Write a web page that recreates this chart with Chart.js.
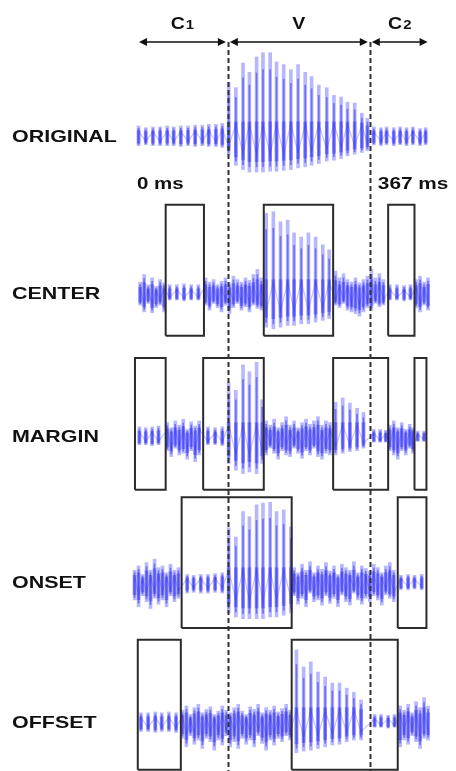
<!doctype html>
<html lang="en">
<head>
    <meta charset="utf-8">
    <title>Waveform windows</title>
    <style>
        body { margin: 0; background: #fff; }
        #wrap { position: relative; width: 456px; height: 771px; }
    </style>
</head>
<body>
    <div id="wrap"><canvas id="myChart"></canvas></div>

    <script src="https://cdn.jsdelivr.net/npm/chart.js"></script>
    <script>
        // ---- data (time in ms, amplitude normalised) ----
        var rowNames = ['ORIGINAL', 'CENTER', 'MARGIN', 'ONSET', 'OFFSET'];
        var segBounds = [0, 114, 292, 367];
        var segNames = ['C', 'V', 'C'];
        var segSubs = ['1', '', '2'];
        var timeLabels = ['0 ms', '367 ms'];

        var origTime = [2,11,20,29,38,46,55,64,73,82,90,99,107, 115,124,133,141,150,158,167,175,184,193,202,211,219,228,238,247,256,264,273,282,289, 297,306,313,322,330,338,346,355,362];
        var origHigh = [0.13,0.11,0.12,0.12,0.13,0.12,0.13,0.13,0.14,0.14,0.15,0.15,0.16, 0.64,0.58,0.87,0.76,0.94,0.99,0.99,0.88,0.85,0.79,0.85,0.76,0.71,0.61,0.58,0.49,0.47,0.41,0.40,0.28,0.22, 0.12,0.11,0.12,0.11,0.12,0.11,0.12,0.10,0.11];
        var origLow = [-0.10,-0.09,-0.10,-0.10,-0.10,-0.10,-0.11,-0.10,-0.11,-0.10,-0.11,-0.11,-0.12, -0.21,-0.33,-0.38,-0.41,-0.41,-0.41,-0.40,-0.40,-0.39,-0.38,-0.36,-0.35,-0.33,-0.31,-0.28,-0.27,-0.25,-0.22,-0.20,-0.18,-0.16, -0.09,-0.10,-0.09,-0.10,-0.09,-0.10,-0.09,-0.10,-0.09];

        var centerTime = [4,9,14,19,24,29,34, 41,50,59,68,77, 86,91,96,101,106,111,116,121,126,131,136,141,146,151,156, 162,171,180,189,197,206,215,224,233,241, 249,254,259,264,269,274,279,284,289,294,299,304,309, 317,326,335,343, 350,355,360,365];
        var centerHigh = [0.15,0.24,0.12,0.20,0.10,0.18,0.14, 0.12,0.12,0.13,0.12,0.12, 0.20,0.15,0.18,0.12,0.16,0.20,0.14,0.22,0.18,0.15,0.20,0.17,0.24,0.30,0.20, 0.96,0.98,0.86,0.88,0.73,0.68,0.73,0.68,0.59,0.53, 0.28,0.20,0.25,0.18,0.15,0.20,0.14,0.18,0.22,0.30,0.20,0.25,0.18, 0.12,0.12,0.11,0.12, 0.18,0.22,0.15,0.20];
        var centerLow = [-0.12,-0.20,-0.10,-0.21,-0.15,-0.12,-0.20, -0.06,-0.06,-0.07,-0.06,-0.06, -0.12,-0.18,-0.10,-0.15,-0.20,-0.12,-0.22,-0.15,-0.10,-0.18,-0.14,-0.20,-0.12,-0.16,-0.18, -0.38,-0.40,-0.38,-0.36,-0.36,-0.34,-0.34,-0.32,-0.30,-0.28, -0.12,-0.15,-0.10,-0.18,-0.20,-0.22,-0.25,-0.20,-0.15,-0.18,-0.10,-0.14,-0.12, -0.06,-0.06,-0.07,-0.06, -0.15,-0.20,-0.12,-0.18];

        var marginTime = [3,11,19,27, 38,43,48,53,58,63,68,73,78, 89,98,107, 115,124,133,141,150,157, 162,167,172,177,182,187,192,197,202,207,212,217,222,227,232,237,242, 249,258,267,276,284, 297,305,312, 317,322,327,332,337,342,346, 352,360];
        var marginHigh = [0.13,0.12,0.13,0.14, 0.18,0.12,0.20,0.15,0.22,0.10,0.19,0.14,0.20, 0.13,0.12,0.13, 0.65,0.56,0.86,0.78,0.89,0.45, 0.20,0.15,0.22,0.12,0.18,0.25,0.15,0.20,0.12,0.18,0.22,0.16,0.20,0.25,0.15,0.20,0.18, 0.42,0.47,0.41,0.35,0.30, 0.10,0.10,0.09, 0.15,0.20,0.12,0.18,0.10,0.16,0.12, 0.08,0.08];
        var marginLow = [-0.08,-0.08,-0.09,-0.08, -0.15,-0.22,-0.12,-0.20,-0.18,-0.25,-0.15,-0.28,-0.20, -0.08,-0.08,-0.09, -0.30,-0.38,-0.42,-0.40,-0.42,-0.30, -0.20,-0.12,-0.18,-0.25,-0.15,-0.20,-0.22,-0.12,-0.18,-0.24,-0.15,-0.20,-0.12,-0.22,-0.25,-0.18,-0.20, -0.20,-0.18,-0.16,-0.15,-0.12, -0.05,-0.05,-0.05, -0.15,-0.20,-0.25,-0.15,-0.20,-0.12,-0.18, -0.04,-0.04];

        var onsetTime = [-3,2,7,12,17,22,27,32,37,42,47,52, 63,71,80,89,98,107, 115,124,133,141,150,158,167,175,184,193, 197,202,207,212,217,222,227,232,237,242,247,252,257,262,267,272,277,282,287,292,297,302,307,312,317,322, 331,340,348,357];
        var onsetHigh = [0.15,0.20,0.10,0.24,0.15,0.28,0.18,0.20,0.12,0.22,0.15,0.18, 0.10,0.09,0.10,0.10,0.11,0.12, 0.65,0.54,0.84,0.78,0.92,0.94,0.95,0.84,0.86,0.66, 0.18,0.12,0.22,0.15,0.25,0.12,0.20,0.16,0.24,0.14,0.20,0.10,0.22,0.18,0.15,0.25,0.12,0.20,0.17,0.14,0.22,0.18,0.12,0.20,0.24,0.15, 0.09,0.10,0.09,0.10];
        var onsetLow = [-0.20,-0.28,-0.15,-0.22,-0.30,-0.18,-0.25,-0.20,-0.28,-0.15,-0.22,-0.18, -0.12,-0.11,-0.12,-0.12,-0.11,-0.12, -0.35,-0.40,-0.42,-0.42,-0.42,-0.42,-0.40,-0.40,-0.38,-0.35, -0.15,-0.25,-0.18,-0.28,-0.12,-0.22,-0.20,-0.26,-0.15,-0.24,-0.18,-0.28,-0.14,-0.22,-0.26,-0.12,-0.20,-0.25,-0.18,-0.22,-0.15,-0.20,-0.26,-0.14,-0.18,-0.22, -0.08,-0.08,-0.07,-0.08];

        var offsetTime = [5,14,23,31,40,49, 57,62,67,72,77,82,87,92,97,102,107,112,117,122,127,132,137,142,147,152,157,162,167,172,177,182,187,192, 200,209,218,227,236,245,254,263,272,281, 298,306,315,323, 330,335,340,345,350,355,360,365];
        var offsetHigh = [0.12,0.12,0.13,0.12,0.13,0.12, 0.15,0.20,0.10,0.18,0.22,0.12,0.16,0.19,0.10,0.14,0.20,0.15,0.12,0.18,0.22,0.14,0.10,0.19,0.16,0.22,0.12,0.18,0.15,0.20,0.13,0.17,0.22,0.15, 0.86,0.66,0.72,0.60,0.54,0.47,0.47,0.41,0.36,0.27, 0.10,0.10,0.09,0.10, 0.20,0.15,0.22,0.12,0.25,0.18,0.30,0.20];
        var offsetLow = [-0.10,-0.10,-0.11,-0.10,-0.10,-0.11, -0.18,-0.28,-0.15,-0.25,-0.20,-0.30,-0.18,-0.22,-0.32,-0.20,-0.26,-0.15,-0.28,-0.22,-0.30,-0.18,-0.25,-0.20,-0.28,-0.15,-0.24,-0.32,-0.20,-0.26,-0.18,-0.22,-0.15,-0.20, -0.35,-0.33,-0.32,-0.30,-0.28,-0.26,-0.25,-0.22,-0.20,-0.20, -0.05,-0.05,-0.06,-0.05, -0.28,-0.20,-0.25,-0.15,-0.22,-0.30,-0.18,-0.20];

        // analysis windows (start / end in ms)
        var centerBoxStart = [36, 159, 315];
        var centerBoxEnd = [84, 246, 348];
        var marginBoxStart = [-2.5, 83, 246, 348];
        var marginBoxEnd = [36, 159, 315, 363];
        var onsetBoxStart = [56, 327];
        var onsetBoxEnd = [194, 363];
        var offsetBoxStart = [1, 194];
        var offsetBoxEnd = [55, 327];
        var boxTop = [0, 1.06, 0.94, 1.01, 0.98];
        var boxBottom = [0, -0.48, -0.61, -0.53, -0.55];

        // ---- build chart ----
        var rows = [
            { id: 'yOrig',   time: origTime,   high: origHigh,   low: origLow,   starts: [],             ends: [] },
            { id: 'yCenter', time: centerTime, high: centerHigh, low: centerLow, starts: centerBoxStart, ends: centerBoxEnd },
            { id: 'yMargin', time: marginTime, high: marginHigh, low: marginLow, starts: marginBoxStart, ends: marginBoxEnd },
            { id: 'yOnset',  time: onsetTime,  high: onsetHigh,  low: onsetLow,  starts: onsetBoxStart,  ends: onsetBoxEnd },
            { id: 'yOffset', time: offsetTime, high: offsetHigh, low: offsetLow, starts: offsetBoxStart, ends: offsetBoxEnd }
        ];
        // vertical band of each row: [max, min, height share]
        var rowRange = [[1.08, -0.62, 145], [1.235, -0.59, 155], [1.094, -0.66, 149], [1.047, -0.624, 142], [1.024, -0.565, 135]];
        var coreLevel = 0.3;   // dense part of the trace round the zero line

        var datasets = [];
        var scales = {
            x: { type: 'linear', min: -10, max: 380, display: false, offset: false }
        };

        rows.forEach(function (r, k) {
            scales[r.id] = {
                type: 'linear', position: 'left', display: false,
                stack: 'rows', stackWeight: rowRange[k][2], weight: 10 - k,
                min: rowRange[k][1], max: rowRange[k][0]
            };
            // light spikes
            datasets.push({
                type: 'bar',
                yAxisID: r.id,
                data: r.time.map((t, i) => ({ x: t, y: [r.low[i], r.high[i]] })),
                backgroundColor: 'rgba(95, 95, 255, 0.45)',
                barThickness: 3,
                grouped: false,
                order: 3
            });
            // dark centre of each spike
            datasets.push({
                type: 'bar',
                yAxisID: r.id,
                data: r.time.map((t, i) => ({ x: t, y: [r.low[i] * 0.85, r.high[i] * 0.8] })),
                backgroundColor: 'rgba(40, 40, 245, 0.5)',
                barThickness: 1,
                grouped: false,
                order: 2
            });
            // denser body near zero
            datasets.push({
                type: 'bar',
                yAxisID: r.id,
                data: r.time.map((t, i) => ({ x: t, y: [r.low[i] * 0.7, Math.min(r.high[i], coreLevel) * 0.6] })),
                backgroundColor: 'rgba(40, 40, 250, 0.4)',
                barThickness: 3,
                grouped: false,
                order: 2
            });
            // thin trace linking the pulses
            datasets.push({
                type: 'line',
                yAxisID: r.id,
                data: r.time.map((t, i) => ({ x: t, y: (i % 2 ? r.low[i] : Math.min(r.high[i], coreLevel)) * 0.5 })),
                borderColor: 'rgba(60, 60, 255, 0.3)',
                borderWidth: 1.2,
                pointRadius: 0,
                tension: 0,
                order: 2
            });
            r.starts.forEach(function (s, j) {
                var e = r.ends[j];
                datasets.push({
                    type: 'line',
                    yAxisID: r.id,
                    data: [{ x: s, y: boxBottom[k] }, { x: s, y: boxTop[k] }, { x: e, y: boxTop[k] }, { x: e, y: boxBottom[k] }, { x: s, y: boxBottom[k] }],
                    borderColor: '#2b2b2b',
                    borderWidth: 2,
                    pointRadius: 0,
                    fill: false,
                    tension: 0,
                    clip: false,
                    order: 1
                });
            });
        });

        function wideText(ctx, txt, x, y, sx) {
            ctx.save();
            ctx.translate(x, y);
            ctx.scale(sx, 1);
            ctx.fillText(txt, 0, 0);
            ctx.restore();
        }

        function arrowHead(ctx, x, y, dir) {
            ctx.beginPath();
            ctx.moveTo(x, y);
            ctx.lineTo(x - dir * 8, y - 4);
            ctx.lineTo(x - dir * 8, y + 4);
            ctx.closePath();
            ctx.fill();
        }

        var annotations = {
            id: 'annotations',
            afterDraw: function (chart) {
                var ctx = chart.ctx;
                var xs = chart.scales.x;
                var area = chart.chartArea;
                var arrowY = area.top - 3;
                ctx.save();
                ctx.fillStyle = '#111';

                // boundary dashes
                ctx.lineWidth = 2;
                ctx.strokeStyle = '#333';
                ctx.setLineDash([5, 3]);
                [segBounds[1], segBounds[2]].forEach(function (b) {
                    var px = Math.round(xs.getPixelForValue(b)) + 0.5;
                    ctx.beginPath();
                    ctx.moveTo(px, arrowY);
                    ctx.lineTo(px, chart.height);
                    ctx.stroke();
                });
                ctx.setLineDash([]);
                ctx.strokeStyle = '#111';

                // segment arrows + names
                ctx.lineWidth = 1.5;
                for (var i = 0; i < segNames.length; i++) {
                    var a = xs.getPixelForValue(segBounds[i]) + 2;
                    var b = xs.getPixelForValue(segBounds[i + 1]) - 2;
                    ctx.beginPath();
                    ctx.moveTo(a + 4, arrowY);
                    ctx.lineTo(b - 4, arrowY);
                    ctx.stroke();
                    arrowHead(ctx, a, arrowY, -1);
                    arrowHead(ctx, b, arrowY, 1);

                    var mid = (a + b) / 2;
                    ctx.font = 'bold 17px "Liberation Sans", Arial, sans-serif';
                    ctx.textBaseline = 'alphabetic';
                    var w1 = ctx.measureText(segNames[i]).width * 1.15;
                    ctx.font = 'bold 13px "Liberation Sans", Arial, sans-serif';
                    var w2 = segSubs[i] ? ctx.measureText(segSubs[i]).width * 1.15 + 1 : 0;
                    var sx = mid - (w1 + w2) / 2;
                    ctx.font = 'bold 17px "Liberation Sans", Arial, sans-serif';
                    wideText(ctx, segNames[i], sx, 29, 1.15);
                    if (segSubs[i]) {
                        ctx.font = 'bold 13px "Liberation Sans", Arial, sans-serif';
                        wideText(ctx, segSubs[i], sx + w1 + 1, 29, 1.15);
                    }
                }

                // time marks
                var yo = chart.scales.yOrig;
                ctx.font = 'bold 16px "Liberation Sans", Arial, sans-serif';
                ctx.textBaseline = 'middle';
                wideText(ctx, timeLabels[0], xs.getPixelForValue(segBounds[0]), yo.bottom - 5, 1.28);
                wideText(ctx, timeLabels[1], xs.getPixelForValue(segBounds[2]) + 8, yo.bottom - 5, 1.3);

                // row names
                ctx.font = 'bold 16.5px "Liberation Sans", Arial, sans-serif';
                rows.forEach(function (r, k) {
                    var y = chart.scales[r.id].getPixelForValue(0);
                    wideText(ctx, rowNames[k], 12, y, 1.3);
                });
                ctx.restore();
            }
        };

        new Chart('myChart', {
            type: 'bar',
            data: { datasets: datasets },
            options: {
                responsive: true,
                maintainAspectRatio: false,
                animation: false,
                layout: { padding: { left: 129, right: 16, top: 45, bottom: 0 } },
                plugins: { legend: { display: false }, tooltip: { enabled: false } },
                scales: scales
            },
            plugins: [annotations]
        });
    </script>
</body>
</html>
